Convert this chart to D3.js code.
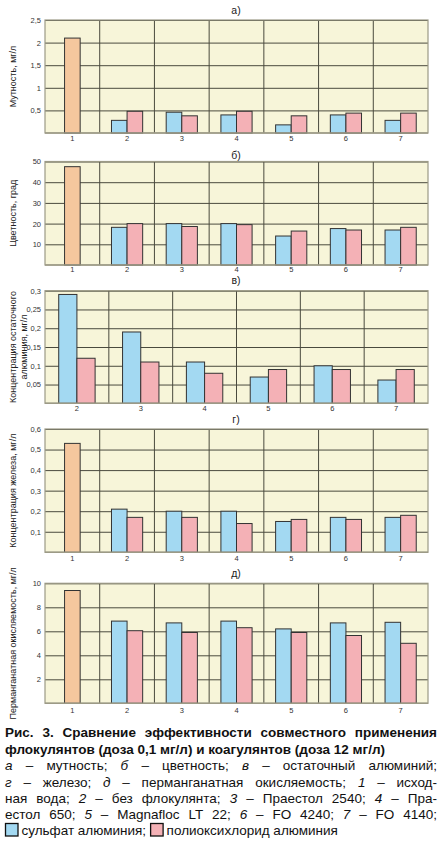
<!DOCTYPE html>
<html><head><meta charset="utf-8">
<script src="https://cdn.jsdelivr.net/npm/d3@7"></script>
<style>
body{margin:0;background:#fff;}
svg{display:block;font-family:"Liberation Sans",Arial,sans-serif;}
</style></head>
<body><svg id="c" width="442" height="854"></svg>
<script>
// ---- data ----
const catsAll = ["1","2","3","4","5","6","7"];
const catsNoSource = ["2","3","4","5","6","7"];

const turbiditySource = 2.1;
const turbiditySulfate = [0.28,0.46,0.40,0.18,0.40,0.28];
const turbidityPoly    = [0.48,0.38,0.48,0.38,0.44,0.44];
const turbidityTicks   = [0.5,1,1.5,2,2.5];

const colorSource = 47.5;
const colorSulfate = [18.2,20,20,14,17.6,16.9];
const colorPoly    = [20,18.6,19.5,16.4,16.9,18.2];
const colorTicks   = [10,20,30,40,50];

const aluminumSulfate = [0.29,0.19,0.11,0.07,0.10,0.062];
const aluminumPoly    = [0.12,0.11,0.08,0.09,0.09,0.09];
const aluminumTicks   = [0.05,0.1,0.15,0.2,0.25,0.3];

const ironSource = 0.53;
const ironSulfate = [0.21,0.20,0.20,0.15,0.17,0.17];
const ironPoly    = [0.17,0.17,0.14,0.16,0.16,0.18];
const ironTicks   = [0.1,0.2,0.3,0.4,0.5,0.6];

const permSource = 9.4;
const permSulfate = [6.85,6.7,6.85,6.2,6.7,6.75];
const permPoly    = [6.05,5.9,6.3,5.9,5.65,5.0];
const permTicks   = [2,4,6,8,10];

const panelTitles = ["а)","б)","в)","г)","д)"];
const axisLabels = [["Мутность, мг/л"],["Цветность, град"],["Концентрация остаточного","алюминия, мг/л"],["Концентрация железа, мг/л"],["Перманганатная окисляемость, мг/л"]];

const legendLabels = ["сульфат алюминия;","полиоксихлорид алюминия"];

// ---- layout ----
const C = {bg:"#f7f5d9", grid:"#4a4a3e", frame:"#9c9a86", source:"#f5c79e", sulfate:"#a3d9f2", poly:"#f4b1b6", stroke:"#333"};
const L = 45, R = 428;

const panels = [
 {cats:catsAll, src:turbiditySource, s1:turbiditySulfate, s2:turbidityPoly, ticks:turbidityTicks, top:20, bottom:133, titleY:10, xlY:140},
 {cats:catsAll, src:colorSource, s1:colorSulfate, s2:colorPoly, ticks:colorTicks, top:161.5, bottom:265, titleY:155.5, xlY:271},
 {cats:catsNoSource, src:null, s1:aluminumSulfate, s2:aluminumPoly, ticks:aluminumTicks, top:290.7, bottom:403.3, titleY:280.5, xlY:410},
 {cats:catsAll, src:ironSource, s1:ironSulfate, s2:ironPoly, ticks:ironTicks, top:429, bottom:552.3, titleY:419.5, xlY:560},
 {cats:catsAll, src:permSource, s1:permSulfate, s2:permPoly, ticks:permTicks, top:583.3, bottom:703.3, titleY:573, xlY:712}
];

const svg = d3.select("#c");
svg.append("rect").attr("width",442).attr("height",854).attr("fill","#fff");
const fmt = v => String(v).replace(".",",");

panels.forEach((p,i)=>{
  const g = svg.append("g");
  const x = d3.scaleBand().domain(p.cats).range([L,R]);
  const y = d3.scaleLinear().domain([0,p.ticks[p.ticks.length-1]]).range([p.bottom,p.top]);
  const w = x.bandwidth()*0.285;

  g.append("rect").attr("x",L).attr("y",p.top).attr("width",R-L).attr("height",p.bottom-p.top).attr("fill",C.bg);

  // horizontal grid + tick labels
  const ya = g.append("g").attr("transform",`translate(${L},0)`)
    .call(d3.axisLeft(y).tickValues(p.ticks).tickSize(-(R-L)).tickPadding(4).tickFormat(fmt));
  ya.select(".domain").remove();
  ya.selectAll(".tick line").attr("stroke",C.grid).attr("stroke-width",1);
  ya.selectAll(".tick text").attr("font-size",7.5).attr("fill","#333").attr("font-family","Liberation Sans, Arial, sans-serif");

  // vertical separators
  g.selectAll(".sep").data(p.cats.slice(1)).join("line")
    .attr("x1",d=>x(d)).attr("x2",d=>x(d)).attr("y1",p.top).attr("y2",p.bottom)
    .attr("stroke",C.grid).attr("stroke-width",1);

  // frame
  g.append("rect").attr("x",L).attr("y",p.top).attr("width",R-L).attr("height",p.bottom-p.top)
    .attr("fill","none").attr("stroke",C.frame).attr("stroke-width",1.2);

  // bars
  const s1cats = p.src===null ? p.cats : p.cats.slice(1);
  if(p.src!==null){
    const c = x(p.cats[0])+x.bandwidth()/2;
    g.append("rect").attr("x",c-w/2).attr("y",y(p.src)).attr("width",w).attr("height",y(0)-y(p.src))
      .attr("fill",C.source).attr("stroke",C.stroke).attr("stroke-width",1);
  }
  g.selectAll(".b1").data(p.s1).join("rect")
    .attr("x",(d,j)=>x(s1cats[j])+x.bandwidth()/2-w).attr("y",d=>y(d)).attr("width",w).attr("height",d=>y(0)-y(d))
    .attr("fill",C.sulfate).attr("stroke",C.stroke).attr("stroke-width",1);
  g.selectAll(".b2").data(p.s2).join("rect")
    .attr("x",(d,j)=>x(s1cats[j])+x.bandwidth()/2).attr("y",d=>y(d)).attr("width",w).attr("height",d=>y(0)-y(d))
    .attr("fill",C.poly).attr("stroke",C.stroke).attr("stroke-width",1);

  // bottom line
  g.append("line").attr("x1",L).attr("x2",R).attr("y1",p.bottom).attr("y2",p.bottom).attr("stroke",C.frame).attr("stroke-width",1.4);

  // x labels
  const xa = g.append("g").attr("transform",`translate(0,${p.xlY-4})`).call(d3.axisBottom(x).tickSize(0).tickPadding(0));
  xa.select(".domain").remove();
  xa.selectAll(".tick text").attr("font-size",7.5).attr("fill","#333").attr("font-family","Liberation Sans, Arial, sans-serif");

  // title
  g.append("text").attr("x",236).attr("y",p.titleY).attr("dy","0.35em").attr("text-anchor","middle")
    .attr("font-size",10.5).attr("fill","#222").text(panelTitles[i]);

  // y label
  const lines = axisLabels[i];
  const cy = (p.top+p.bottom)/2;
  lines.forEach((t,k)=>{
    const lx = 13 + k*11;
    g.append("text").attr("transform",`translate(${lx},${cy}) rotate(-90)`).attr("text-anchor","middle")
      .attr("dy","0.35em").attr("font-size",9).attr("fill","#222").text(t);
  });
});

// ---- caption ----
const capLines = [
 {y:737, bold:true, justify:true, toks:[["Рис.",0],["3.",0],["Сравнение",0],["эффективности",0],["совместного",0],["применения",0]]},
 {y:754, bold:true, justify:false, toks:[["флокулянтов (доза 0,1 мг/л) и коагулянтов (доза 12 мг/л)",0]]},
 {y:770, justify:true, toks:[["а",1],["–",0],["мутность;",0],["б",1],["–",0],["цветность;",0],["в",1],["–",0],["остаточный",0],["алюминий;",0]]},
 {y:786.5, justify:true, toks:[["г",1],["–",0],["железо;",0],["д",1],["–",0],["перманганатная",0],["окисляемость;",0],["1",1],["–",0],["исход-",0]]},
 {y:802.5, justify:true, toks:[["ная",0],["вода;",0],["2",1],["–",0],["без",0],["флокулянта;",0],["3",1],["–",0],["Праестол",0],["2540;",0],["4",1],["–",0],["Пра-",0]]},
 {y:818.5, justify:true, toks:[["естол",0],["650;",0],["5",1],["–",0],["Magnafloc",0],["LT",0],["22;",0],["6",1],["–",0],["FO",0],["4240;",0],["7",1],["–",0],["FO",0],["4140;",0]]}
];
const CX0 = 5, CX1 = 437;
capLines.forEach(l=>{
  const nodes = l.toks.map(([t,it])=>{
    return svg.append("text").attr("y",l.y).attr("font-size",13.5)
      .attr("font-weight",l.bold?"bold":"normal").attr("font-style",it?"italic":"normal")
      .attr("fill","#111").text(t);
  });
  const widths = nodes.map(n=>n.node().getComputedTextLength());
  const total = d3.sum(widths);
  const gap = l.justify && nodes.length>1 ? (CX1-CX0-total)/(nodes.length-1) : 4;
  let cx = CX0;
  nodes.forEach((n,k)=>{ n.attr("x",cx); cx += widths[k]+gap; });
});

// legend
const legColors = [C.sulfate, C.poly];
let lx = 5;
legendLabels.forEach((t,k)=>{
  svg.append("rect").attr("x",lx+0.5).attr("y",823.5).attr("width",12.5).attr("height",12.5)
    .attr("fill",legColors[k]).attr("stroke","#111").attr("stroke-width",1.3);
  const tx = svg.append("text").attr("x",lx+16.5).attr("y",835).attr("font-size",13.5).attr("fill","#111").text(t);
  lx += 16.5 + tx.node().getComputedTextLength() + 4;
});
</script></body></html>
